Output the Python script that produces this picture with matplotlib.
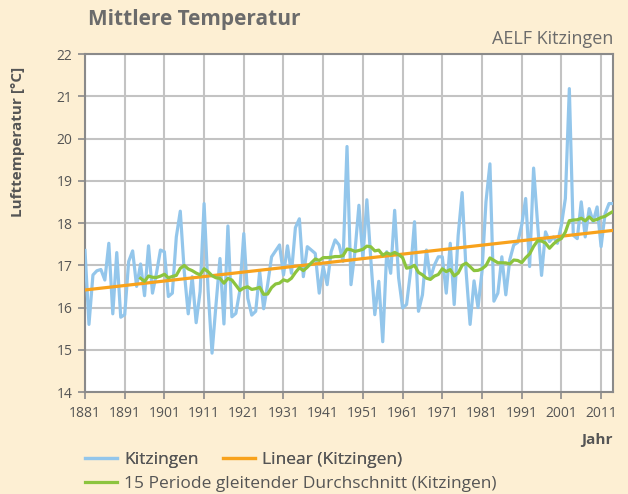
"""
Mittlere Temperatur Kitzingen 1881-2014 mit Trend und gleitendem Durchschnitt
"""

import numpy as np
import pandas as pd
import matplotlib
matplotlib.use("Agg")
import matplotlib.pyplot as plt
from matplotlib.lines import Line2D

# Daten
years = list(range(1881, 2015))
temps = [
    17.35, 15.6, 16.77, 16.87, 16.9, 16.65, 17.52, 15.85, 17.3, 15.77,   # 1881-1890
    15.83, 17.09, 17.34, 16.5, 17.03, 16.28, 17.46, 16.34, 16.81, 17.36,  # 1891-1900
    17.32, 16.26, 16.34, 17.67, 18.28, 16.85, 15.85, 16.73, 15.64, 16.38,  # 1901-1910
    18.46, 16.42, 14.92, 16.07, 17.16, 15.61, 17.93, 15.78, 15.86, 16.4,   # 1911-1920
    17.75, 16.22, 15.82, 15.91, 16.85, 15.97, 16.54, 17.2, 17.34, 17.48,   # 1921-1930
    16.77, 17.46, 16.81, 17.89, 18.1, 16.73, 17.44, 17.36, 17.28, 16.34,   # 1931-1940
    16.97, 16.54, 17.32, 17.6, 17.48, 17.09, 19.81, 16.54, 17.32, 18.42,   # 1941-1950
    17.16, 18.55, 17.13, 15.83, 16.62, 15.19, 17.32, 16.81, 18.3, 16.7,    # 1951-1960
    15.99, 16.07, 16.85, 18.03, 15.91, 16.3, 17.36, 16.69, 17.0, 17.2,     # 1961-1970
    17.2, 16.34, 17.52, 16.07, 17.71, 18.72, 16.85, 15.6, 16.63, 16.0,     # 1971-1980
    16.85, 18.5, 19.4, 16.15, 16.34, 17.2, 16.3, 17.13, 17.48, 17.54,      # 1981-1990
    17.95, 18.58, 16.97, 19.3, 17.99, 16.76, 17.79, 17.56, 17.67, 17.52,   # 1991-2000
    17.95, 18.58, 21.18, 17.71, 17.63, 18.5, 17.67, 18.34, 18.03, 18.38,   # 2001-2010
    17.44, 18.22, 18.46, 18.46,                                            # 2011-2014
]

x_ticks = list(range(1881, 2012, 10))
y_ticks = list(range(14, 23))

BG = "#FDEFD3"
BLUE = "#93C6EB"
ORANGE = "#F8A21C"
GREEN = "#8CC43E"
TXT = "#555555"
FONT = "Open Sans"


def main():
    s = pd.Series(temps, index=years)
    ma = s.rolling(15).mean()
    slope, icpt = np.polyfit(years, temps, 1)
    trend = slope * np.array(years) + icpt

    fig = plt.figure(figsize=(6.28, 4.94), dpi=100, facecolor=BG)
    ax = fig.add_axes([85 / 628, 1 - 392 / 494, (613 - 85) / 628, (392 - 54) / 494])
    ax.set_facecolor("white")

    ax.plot(years, temps, color=BLUE, lw=2.3, zorder=3)
    ax.plot(years, trend, color=ORANGE, lw=2.3, zorder=4)
    ax.plot(ma.index, ma.values, color=GREEN, lw=2.3, zorder=5)

    ax.set_xlim(1881, 2014)
    ax.set_ylim(14, 22)
    ax.set_xticks(x_ticks)
    ax.set_yticks(y_ticks)
    ax.grid(True, color="#C3C3C3", lw=1.5)
    ax.set_axisbelow(True)
    for sp in ax.spines.values():
        sp.set_color("#8A8A8A")
        sp.set_linewidth(1.5)
    ax.tick_params(colors="#8A8A8A", labelcolor=TXT, labelsize=10, length=5, width=1.2)
    ax.tick_params(axis="x", pad=5)
    ax.tick_params(axis="y", pad=4)

    fig.text(88 / 628, 1 - 20 / 494, "Mittlere Temperatur", fontsize=15, fontweight="bold",
             color="#6B6B6B", va="center", ha="left", family=FONT)
    fig.text(613 / 628, 1 - 39 / 494, "AELF Kitzingen", fontsize=13, color="#6B6B6B",
             va="center", ha="right", family=FONT)
    fig.text(18 / 628, 1 - 142 / 494, "Lufttemperatur [°C]", fontsize=11, fontweight="bold",
             color=TXT, rotation=90, va="center", ha="center", family=FONT)
    fig.text(613 / 628, 1 - 440 / 494, "Jahr", fontsize=11, fontweight="bold",
             color=TXT, va="center", ha="right", family=FONT)

    # Legende in zwei Zeilen wie im Original
    leg_prop = {"family": FONT, "size": 12.5}
    handles = [Line2D([], [], color=BLUE, lw=2.3),
               Line2D([], [], color=ORANGE, lw=2.3)]
    leg1 = fig.legend(handles, ["Kitzingen", "Linear (Kitzingen)"], ncol=2,
                      loc="center left", bbox_to_anchor=(85 / 628, 1 - 460 / 494),
                      frameon=False, handlelength=1.85, handletextpad=0.4,
                      columnspacing=1.4, borderpad=0, borderaxespad=0,
                      labelcolor=TXT, prop=leg_prop)
    fig.legend([Line2D([], [], color=GREEN, lw=2.3)],
               ["15 Periode gleitender Durchschnitt (Kitzingen)"],
               loc="center left", bbox_to_anchor=(85 / 628, 1 - 484 / 494),
               frameon=False, handlelength=1.85, handletextpad=0.4,
               borderpad=0, borderaxespad=0, labelcolor=TXT, prop=leg_prop)
    fig.add_artist(leg1)

    for t in ax.get_xticklabels() + ax.get_yticklabels():
        t.set_family(FONT)

    fig.savefig("out.png", dpi=100, facecolor=BG)
    plt.close(fig)


if __name__ == "__main__":
    main()
